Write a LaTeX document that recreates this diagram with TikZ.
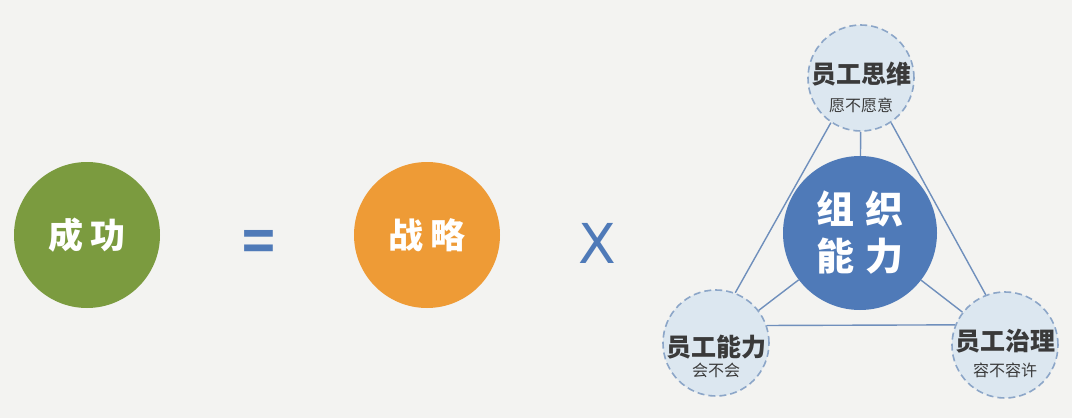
\documentclass[tikz,border=0pt]{standalone}
\usepackage{fontspec}
\newfontfamily\cjk{Noto Sans CJK SC}
\newfontfamily\latin{DejaVu Sans}
\usetikzlibrary{positioning}
\definecolor{paper}{HTML}{F3F3F1}
\definecolor{leaf}{HTML}{7B9B3F}
\definecolor{amber}{HTML}{EE9B36}
\definecolor{steel}{HTML}{4F7AB8}
\definecolor{mist}{HTML}{DCE7F0}
\definecolor{rim}{HTML}{8CA6C8}
\definecolor{wire}{HTML}{6F8FBC}
\definecolor{ink}{HTML}{3A3A3A}

\tikzset{
  bigball/.style={circle, minimum size=146pt, inner sep=0pt, text=white,
    font=\cjk\bfseries\fontsize{35}{40}\selectfont},
  satball/.style={circle, minimum size=106pt, inner sep=0pt, fill=mist, draw=rim,
    line width=1.6pt, dash pattern=on 7pt off 4pt},
  title/.style={text=ink, inner sep=0pt, font=\cjk\bfseries\fontsize{25}{30}\selectfont},
  sub/.style={text=ink, inner sep=0pt, font=\cjk\fontsize{16}{20}\selectfont},
  sign/.style={text=steel, inner sep=0pt, font=\cjk\bfseries\fontsize{54}{60}\selectfont},
}

\begin{document}
\begin{tikzpicture}[x=1pt, y=-1pt]
    \fill[paper] (0,0) rectangle (1072,418);
    \useasboundingbox (0,0) rectangle (1072,418);
    % formula
    \node[bigball, fill=leaf] (success) at (87,235) {成\hspace{8pt}功};
    \node[sign] (equals) at (259,246) {=};
    \node[bigball, fill=amber] (strategy) at (427,235) {战\hspace{8pt}略};
    \node[sign, font=\latin\fontsize{55}{60}\selectfont] (times) at (597,243) {X};
    % organisation
    \node[circle, minimum size=154pt, inner sep=0pt, fill=steel, text=white, align=center,
      font=\cjk\bfseries\fontsize{38}{47}\selectfont] (orgcap) at (860,233)
      {组\hspace{12pt}织\\能\hspace{12pt}力};
    \node[satball] (think) at (861,78) {};
    \node[satball] (skill) at (716,343) {};
    \node[satball] (govern) at (1005,345) {};
    \node[title] (thinkT) at (861,74) {员工思维};
    \node[sub] (thinkS) at (861,105) {愿不愿意};
    \node[title] (skillT) at (716,347) {员工能力};
    \node[sub] (skillS) at (716,370) {会不会};
    \node[title] (governT) at (1005,341) {员工治理};
    \node[sub] (governS) at (1005,370) {容不容许};
    % links
    \begin{scope}[wire, line width=1.4pt]
      \draw (think.236) -- (skill.69);
      \draw (think.304) -- (govern.111);
      \draw (skill.19) -- (govern.158);
      \foreach \s in {think, skill, govern} \draw (orgcap) -- (\s);
    \end{scope}
\end{tikzpicture}
\end{document}
